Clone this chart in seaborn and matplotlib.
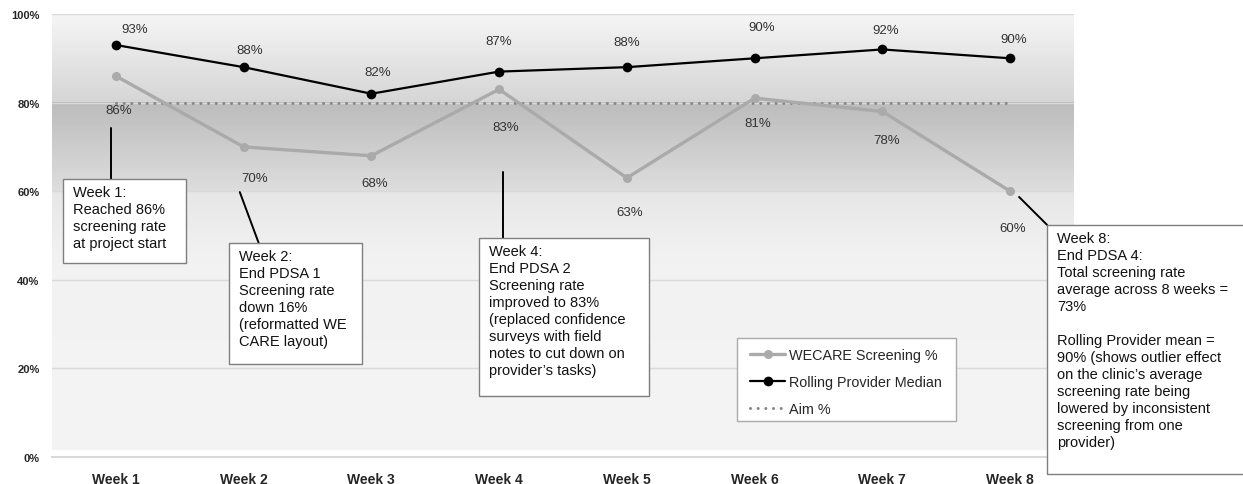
import numpy as np
import matplotlib
matplotlib.use("Agg")
import matplotlib.pyplot as plt
from matplotlib.patches import Rectangle
import seaborn as sns

# ---- data ----
weeks = ["Week 1", "Week 2", "Week 3", "Week 4", "Week 5", "Week 6", "Week 7", "Week 8"]
wecare_pct = [86, 70, 68, 83, 63, 81, 78, 60]
provider_median = [93, 88, 82, 87, 88, 90, 92, 90]
aim_pct = [80, 80, 80, 80, 80, 80, 80, 80]
y_ticks = [0, 20, 40, 60, 80, 100]

notes = [
    "Week 1:\nReached 86%\nscreening rate\nat project start",
    "Week 2:\nEnd PDSA 1\nScreening rate\ndown 16%\n(reformatted WE\nCARE layout)",
    "Week 4:\nEnd PDSA 2\nScreening rate\nimproved to 83%\n(replaced confidence\nsurveys with field\nnotes to cut down on\nprovider\u2019s tasks)",
    "Week 8:\nEnd PDSA 4:\nTotal screening rate\naverage across 8 weeks =\n73%\n\nRolling Provider mean =\n90% (shows outlier effect\non the clinic\u2019s average\nscreening rate being\nlowered by inconsistent\nscreening from one\nprovider)",
]

# ---- layout / style (label nudges in pixels, boxes in data units) ----
median_label_offsets = [(19, 16), (6, 17), (6, 22), (0, 31), (0, 25), (7, 31), (3, 19), (4, 19)]
wecare_label_offsets = [(3, -34), (11, -31), (3, -27), (7, -38), (3, -34), (3, -25), (4, -29), (3, -37)]
note_boxes = [  # (x_left, y_bottom, width, height)
    (-0.415, 43.8, 0.962, 19.0),
    (0.884, 21.0, 1.040, 27.3),
    (2.839, 13.8, 1.337, 35.6),
    (7.289, -3.8, 1.700, 56.2),
]
note_leaders = [  # ((x0, x1), (y0, y1))
    ((-0.039, -0.039), (74.3, 62.8)),
    ((0.970, 1.118), (59.8, 48.3)),
    ((3.027, 3.027), (64.3, 49.4)),
    ((7.070, 7.289), (58.7, 52.4)),
]

sns.set_style("white")
plt.rcParams["font.family"] = ["Liberation Sans", "DejaVu Sans"]

fig = plt.figure(figsize=(12.43, 4.85), dpi=100)
ax = fig.add_axes([52 / 1243, 27 / 485, 1022 / 1243, 443 / 485])

x = np.arange(len(weeks))

# banded grey background
yy = np.linspace(1.5, 100, 600)
shade = np.interp(yy, [1.5, 45, 59.99, 60.0, 79.99, 80.0, 100],
                  [0.955, 0.945, 0.900, 0.865, 0.735, 0.835, 0.960])
img = np.repeat(shade[:, None], 2, axis=1)
ax.imshow(img, extent=[-0.5, 7.5, 1.5, 100], origin="lower", aspect="auto",
          cmap="gray", vmin=0, vmax=1, zorder=0, interpolation="nearest")

sns.lineplot(x=x, y=wecare_pct, ax=ax, color="#aaaaaa", lw=2.4, marker="o",
             markersize=6.5, markeredgewidth=0, label="WECARE Screening %", zorder=3)
sns.lineplot(x=x, y=provider_median, ax=ax, color="black", lw=1.6, marker="o",
             markersize=7, markeredgewidth=0, label="Rolling Provider Median", zorder=4)
sns.lineplot(x=x, y=aim_pct, ax=ax, color="#888888", lw=2.2,
             linestyle=(0, (0.01, 2.5)), dash_capstyle="round", label="Aim %", zorder=2)

# value labels
for xi, v, (dx, dy) in zip(x, provider_median, median_label_offsets):
    ax.annotate(f"{v}%", (xi, v), xytext=(dx, dy), textcoords="offset pixels",
                ha="center", va="center", fontsize=9.5, color="#333333", zorder=6)
for xi, v, (dx, dy) in zip(x, wecare_pct, wecare_label_offsets):
    ax.annotate(f"{v}%", (xi, v), xytext=(dx, dy), textcoords="offset pixels",
                ha="center", va="center", fontsize=9.5, color="#333333", zorder=6)

# callout boxes with leader lines
for text, (bx, by, bw, bh), (lx, ly) in zip(notes, note_boxes, note_leaders):
    ax.plot(lx, ly, color="black", lw=1.4, clip_on=False, zorder=7)
    ax.add_patch(Rectangle((bx, by), bw, bh, facecolor="white", edgecolor="#7f7f7f",
                           lw=1.0, clip_on=False, zorder=8))
    ax.annotate(text, (bx, by + bh), xytext=(10, -6), textcoords="offset pixels",
                ha="left", va="top", fontsize=10.5, color="#111111",
                linespacing=1.27, annotation_clip=False, zorder=9)

# axes
ax.set_xlim(-0.5, 7.5)
ax.set_ylim(0, 100)
ax.set_xticks(x)
ax.set_xticklabels(weeks, fontsize=10, fontweight="bold")
ax.set_yticks(y_ticks)
ax.set_yticklabels([f"{t}%" for t in y_ticks], fontsize=8, fontweight="bold")
ax.tick_params(axis="y", length=0, pad=9)
ax.tick_params(axis="x", direction="in", length=3, color="#cccccc", pad=11)
ax.set_axisbelow(True)
ax.yaxis.grid(True, color="#d9d9d9", lw=1.0, zorder=1)
ax.xaxis.grid(False)
for side in ["top", "right", "left"]:
    ax.spines[side].set_visible(False)
ax.spines["bottom"].set_color("#d9d9d9")
ax.spines["bottom"].set_linewidth(1.5)
ax.set_xlabel("")
ax.set_ylabel("")

# legend: frameless entries inside a separately drawn box
ax.add_patch(Rectangle((0.670, 0.0813), 0.2145, 0.1873, transform=ax.transAxes,
                       facecolor="white", edgecolor="#aaaaaa", lw=1.0, zorder=9))
leg = ax.legend(loc="upper left", bbox_to_anchor=(0.683, 0.247), borderaxespad=0,
                borderpad=0, fontsize=10.4, frameon=False, handlelength=2.43,
                handletextpad=0.28, labelspacing=0.92)
leg.set_zorder(10)

fig.savefig("out.png", dpi=100)
